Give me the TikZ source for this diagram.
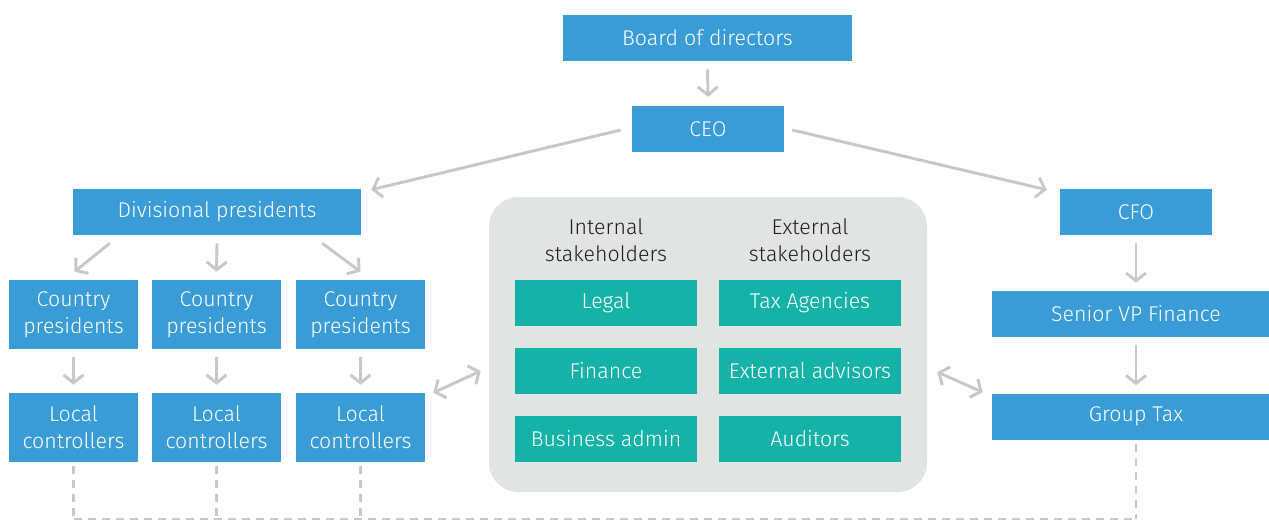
\documentclass[tikz,border=0pt]{standalone}
\usepackage{fontspec}
\setmainfont{Fira Sans}[UprightFont={* Light}]
\usetikzlibrary{arrows.meta,calc}
\definecolor{boxblue}{HTML}{3A9CD6}
\definecolor{boxteal}{HTML}{15B2A7}
\definecolor{panelgray}{HTML}{E2E3E3}
\definecolor{arrgray}{HTML}{C8C8C8}
\definecolor{txtdark}{HTML}{1E1E1E}
\newdimen\px \px=0.75pt
\tikzset{
  basebox/.style={inner sep=0pt, align=center, text=white,
    font=\fontsize{16}{20.3}\selectfont},
  bluebox/.style={basebox, fill=boxblue},
  tealbox/.style={basebox, fill=boxteal, minimum width=182*\px, minimum height=46*\px},
  panel/.style={fill=panelgray, rounded corners=22pt, minimum width=438*\px, minimum height=295*\px},
  grouplabel/.style={align=center, text=txtdark, font=\fontsize{16}{20.3}\selectfont},
  arr/.style={draw=arrgray, line width=2.2pt, -{Straight Barb[length=6pt,width=15pt,line width=2.2pt]}},
  darr/.style={draw=arrgray, line width=2.2pt, {Straight Barb[length=6pt,width=15pt,line width=2.2pt]}-{Straight Barb[length=6pt,width=15pt,line width=2.2pt]}},
  dashline/.style={draw=arrgray, line width=2.2pt, dash pattern=on 6pt off 4.5pt}
}
\begin{document}
\begin{tikzpicture}[x=0.75pt,y=-0.75pt]
\clip (0,0) rectangle (1269,521);
\fill[white] (0,0) rectangle (1269,521);
% top
\node[bluebox, minimum width=289*\px, minimum height=46*\px] (board) at (707.5,38) {Board of directors};
\node[bluebox, minimum width=152*\px, minimum height=46*\px] (ceo) at (708,129) {CEO};
% left
\node[bluebox, minimum width=288*\px, minimum height=46*\px] (div) at (217,212) {Divisional presidents};
\node[bluebox, minimum width=129*\px, minimum height=69*\px] (cp1) at (73.5,314.5) {Country\\presidents};
\node[bluebox, minimum width=129*\px, minimum height=69*\px] (cp2) at (216.5,314.5) {Country\\presidents};
\node[bluebox, minimum width=129*\px, minimum height=69*\px] (cp3) at (360.5,314.5) {Country\\presidents};
\node[bluebox, minimum width=129*\px, minimum height=69*\px] (lc1) at (73.5,427.5) {Local\\controllers};
\node[bluebox, minimum width=129*\px, minimum height=69*\px] (lc2) at (216.5,427.5) {Local\\controllers};
\node[bluebox, minimum width=129*\px, minimum height=69*\px] (lc3) at (360.5,427.5) {Local\\controllers};
% right
\node[bluebox, minimum width=152*\px, minimum height=46*\px] (cfo) at (1136,212) {CFO};
\node[bluebox, minimum width=288*\px, minimum height=46*\px] (svp) at (1136,314) {Senior VP Finance};
\node[bluebox, minimum width=288*\px, minimum height=46*\px] (gtax) at (1136,416.5) {Group Tax};
% center panel
\node[panel] (stake) at (708,344.5) {};
\node[grouplabel] (intl) at (606,240) {Internal\\stakeholders};
\node[grouplabel] (extl) at (810,240) {External\\stakeholders};
\node[tealbox] (legal) at (606,303) {Legal};
\node[tealbox] (fin) at (606,371) {Finance};
\node[tealbox] (bus) at (606,439) {Business admin};
\node[tealbox] (tax) at (810,303) {Tax Agencies};
\node[tealbox] (extadv) at (810,371) {External advisors};
\node[tealbox] (aud) at (810,439) {Auditors};
% arrows
\draw[arr] ($(board.south)+(0,8)$) -- ($(ceo.north)+(0,-9)$);
\draw[arr] ($(ceo.west)+(-11,1)$) -- ($(div.north east)+(10,1)$);
\draw[arr] ($(ceo.east)+(8,1)$) -- ($(cfo.north west)+(-13,1)$);
\draw[arr] ($(div.south west)+(37,8)$) -- ($(cp1.north)+(1,-8)$);
\draw[arr] ($(div.south)+(0,8)$) -- ($(cp2.north)+(0,-8)$);
\draw[arr] ($(div.south east)+(-39,8)$) -- ($(cp3.north)+(0,-8)$);
\draw[arr] ($(cp1.south)+(0,8)$) -- ($(lc1.north)+(0,-8)$);
\draw[arr] ($(cp2.south)+(0,8)$) -- ($(lc2.north)+(0,-8)$);
\draw[arr] ($(cp3.south)+(0,8)$) -- ($(lc3.north)+(0,-8)$);
\draw[arr] ($(cfo.south)+(0,8)$) -- ($(svp.north)+(0,-8)$);
\draw[arr] ($(svp.south)+(0,8)$) -- ($(gtax.north)+(0,-8)$);
\draw[darr] ($(lc3.north east)+(8,0)$) -- ($(fin.west)+(-34,0)$);
\draw[darr] ($(extadv.east)+(36,1)$) -- ($(gtax.north west)+(-9,-1)$);
% dashed bottom lines
\coordinate (b1) at (73.5,519);
\coordinate (b2) at (216.5,519);
\coordinate (b3) at (360.5,519);
\coordinate (b4) at (1136,519);
\draw[dashline] ($(lc1.south)+(0,4)$) -- (b1);
\draw[dashline] ($(lc2.south)+(0,4)$) -- (b2);
\draw[dashline] ($(lc3.south)+(0,4)$) -- (b3);
\draw[dashline] ($(gtax.south)+(0,4)$) -- (b4);
\draw[dashline] (b1) -- (b4);
\end{tikzpicture}
\end{document}
